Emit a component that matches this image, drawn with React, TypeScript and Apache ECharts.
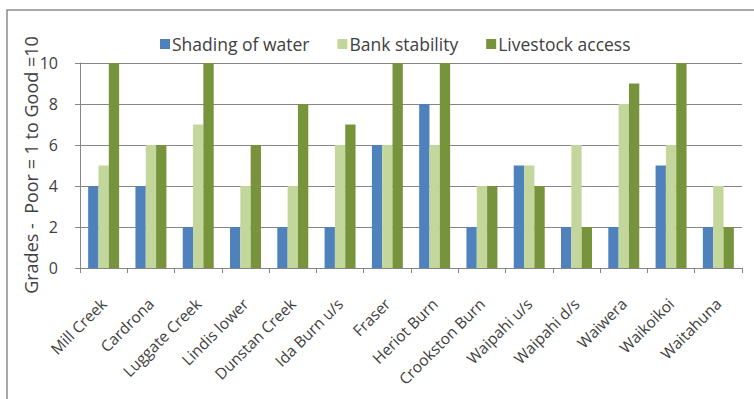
import React, { useEffect, useRef } from "react";
import * as echarts from "echarts";

// Stream sites along the x axis
const sites = [
  "Mill Creek",
  "Cardrona",
  "Luggate Creek",
  "Lindis lower",
  "Dunstan Creek",
  "Ida Burn u/s",
  "Fraser",
  "Heriot Burn",
  "Crookston Burn",
  "Waipahi u/s",
  "Waipahi d/s",
  "Waiwera",
  "Waikoikoi",
  "Waitahuna",
];

// Riparian grades per site (Poor = 1 to Good = 10)
const shadingOfWater = [4, 4, 2, 2, 2, 2, 6, 8, 2, 5, 2, 2, 5, 2];
const bankStability = [5, 6, 7, 4, 4, 6, 6, 6, 4, 5, 6, 8, 6, 4];
const livestockAccess = [10, 6, 10, 6, 8, 7, 10, 10, 4, 4, 2, 9, 10, 2];

const seriesNames = ["Shading of water", "Bank stability", "Livestock access"];
const seriesColors = ["#4F81BD", "#C3D69B", "#77933C"];

const yAxisTitle = "Grades -  Poor = 1 to Good =10";

const FONT = "'Open Sans', 'Noto Sans', sans-serif";
const TEXT = "#404040";
const LINE = "#868686";

export default function App() {
  const ref = useRef<HTMLDivElement>(null);

  useEffect(() => {
    if (!ref.current) return;
    const chart = echarts.init(ref.current, undefined, { renderer: "svg" });
    const values = [shadingOfWater, bankStability, livestockAccess];

    chart.setOption({
      animation: false,
      backgroundColor: "#ffffff",
      textStyle: { fontFamily: FONT },
      graphic: [
        {
          type: "rect",
          shape: { x: 7, y: 10, width: 800, height: 450 },
          style: { fill: "none", stroke: "#8c8c8c", lineWidth: 1.5 },
          silent: true,
        },
        {
          type: "text",
          x: 31,
          y: 165,
          rotation: Math.PI / 2,
          style: {
            text: yAxisTitle,
            fontFamily: FONT,
            fontSize: 18,
            fill: TEXT,
            align: "center",
            verticalAlign: "middle",
          },
        },
      ],
      legend: {
        left: 155,
        top: 30,
        itemWidth: 10,
        itemHeight: 10,
        itemGap: 28,
        icon: "rect",
        data: seriesNames,
        textStyle: { fontFamily: FONT, fontSize: 17.5, color: TEXT, padding: [0, 0, 0, -3] },
      },
      grid: { left: 80, right: 12, top: 63, bottom: 131, containLabel: false },
      xAxis: {
        type: "category",
        data: sites,
        axisLine: { lineStyle: { color: LINE, width: 1 } },
        axisTick: { show: true, length: 5, lineStyle: { color: LINE } },
        axisLabel: {
          rotate: 45,
          interval: 0,
          margin: 33,
          fontFamily: FONT,
          fontSize: 15.5,
          color: TEXT,
        },
      },
      yAxis: {
        type: "value",
        min: 0,
        max: 10,
        interval: 2,
        axisLine: { show: true, lineStyle: { color: LINE, width: 1 } },
        axisTick: { show: true, length: 5, lineStyle: { color: LINE } },
        axisLabel: { margin: 22, fontFamily: FONT, fontSize: 16, color: TEXT },
        splitLine: { show: true, lineStyle: { color: LINE, width: 1 } },
      },
      series: seriesNames.map((name, i) => ({
        name,
        type: "bar",
        data: values[i],
        barGap: "0%",
        barCategoryGap: "34.5%",
        itemStyle: { color: seriesColors[i] },
      })),
    });

    return () => chart.dispose();
  }, []);

  return (
    <div
      ref={ref}
      style={{ position: "absolute", left: 0, top: 0, width: 754, height: 399 }}
    />
  );
}
